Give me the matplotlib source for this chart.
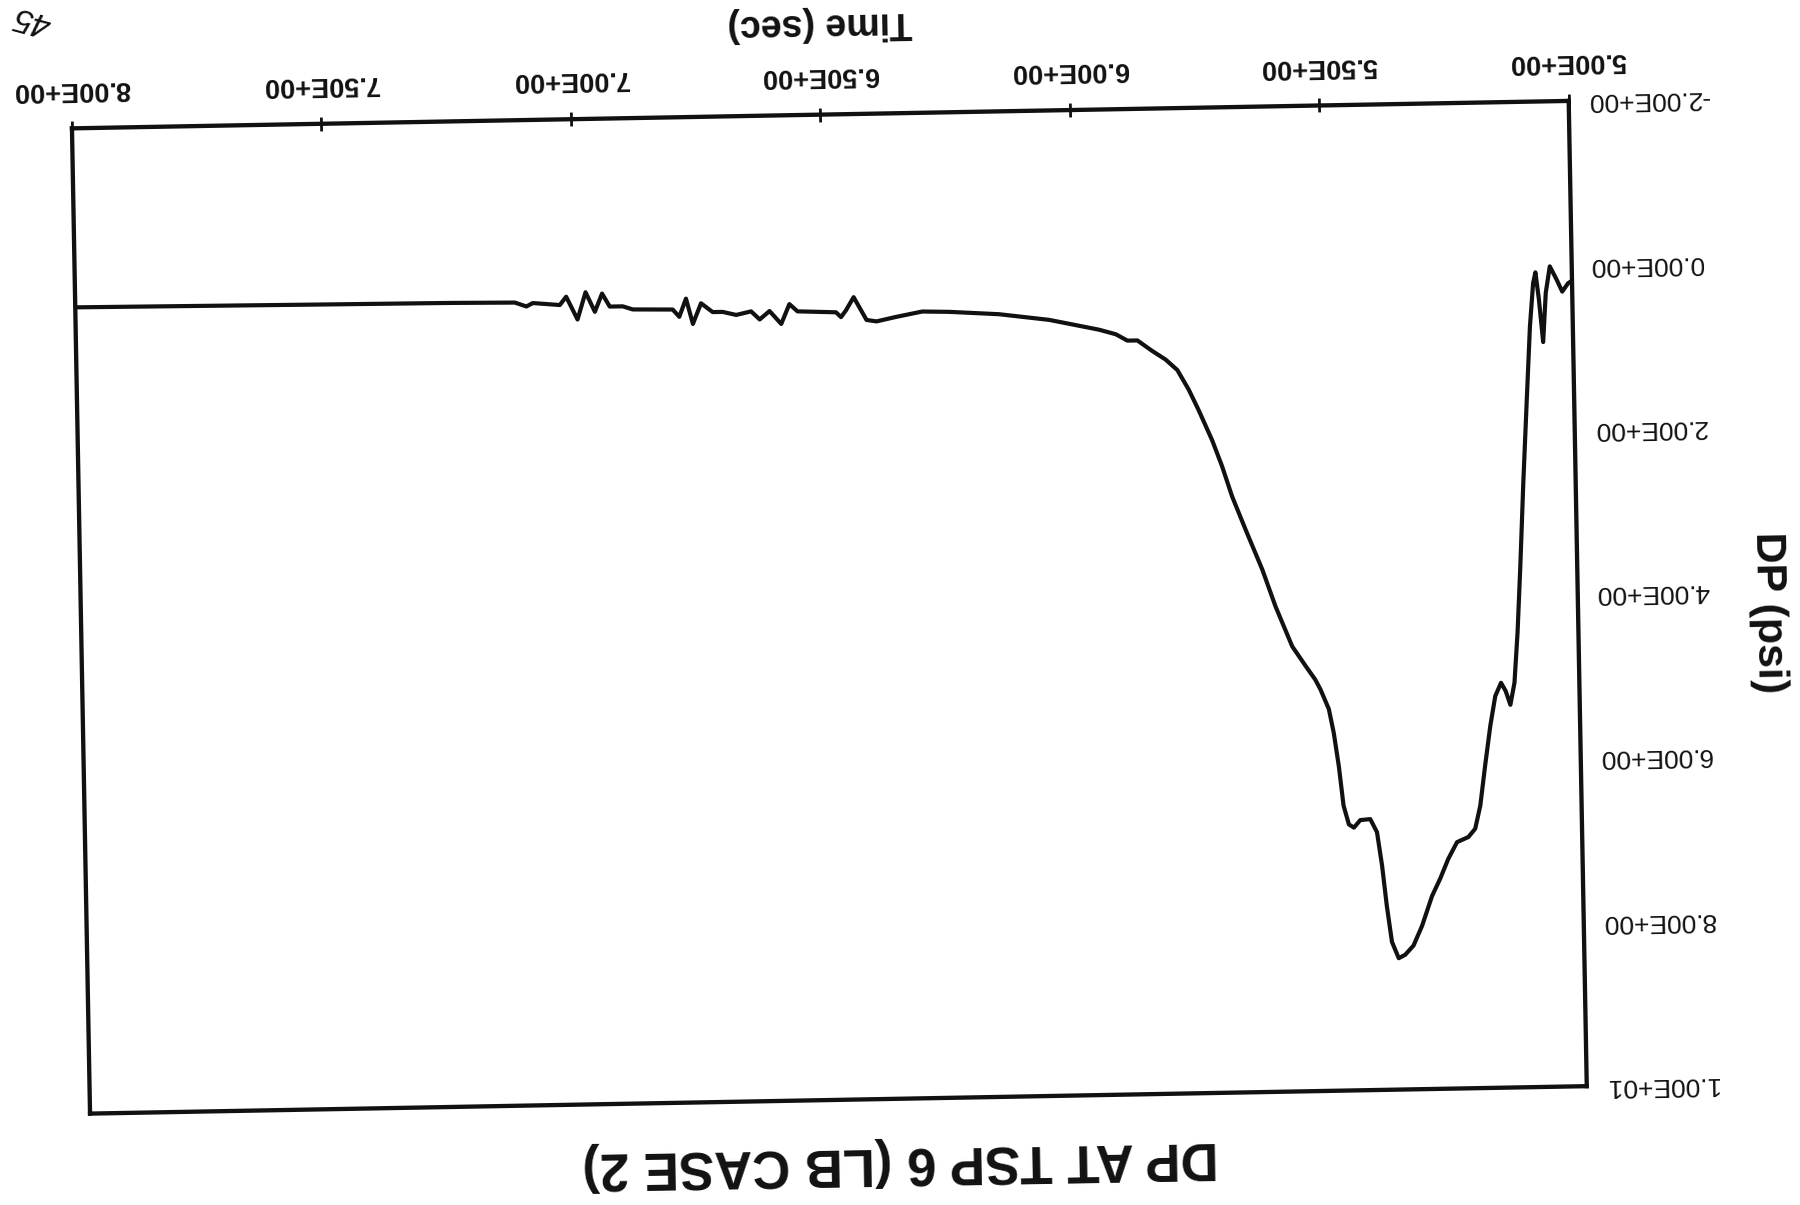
import matplotlib
matplotlib.use("Agg")
import matplotlib.pyplot as plt
from matplotlib.transforms import Affine2D
import mpl_toolkits.axisartist.floating_axes as floating_axes
from mpl_toolkits.axisartist.grid_finder import FixedLocator, DictFormatter

# DP at TSP 6, LB case 2
time_sec = [
    5.000, 5.008, 5.020, 5.031, 5.044, 5.053, 5.060, 5.067, 5.073, 5.078,
    5.086, 5.095, 5.105, 5.114, 5.122, 5.130, 5.139, 5.148, 5.157, 5.169,
    5.180, 5.192, 5.203, 5.214, 5.228, 5.251, 5.269, 5.286, 5.303, 5.324,
    5.342, 5.359, 5.372, 5.385, 5.394, 5.402, 5.411, 5.424, 5.444, 5.457,
    5.467, 5.477, 5.485, 5.494, 5.503, 5.519, 5.529, 5.548, 5.574, 5.606,
    5.631, 5.663, 5.689, 5.708, 5.727, 5.753, 5.772, 5.794, 5.817, 5.844,
    5.873, 5.893, 5.916, 5.950, 6.049, 6.149, 6.249, 6.303, 6.356, 6.395,
    6.415, 6.440, 6.456, 6.466, 6.476, 6.553, 6.569, 6.586, 6.609, 6.629,
    6.646, 6.676, 6.703, 6.723, 6.746, 6.763, 6.776, 6.790, 6.803, 6.883,
    6.903, 6.929, 6.944, 6.959, 6.977, 6.994, 7.016, 7.029, 7.083, 7.096,
    7.119, 7.249, 7.518, 8.000,
]
dp_psi = [
    0.19, 0.22, 0.32, 0.17, 0.01, 0.33, 0.93, 0.41, 0.08, 0.21,
    0.74, 1.63, 2.64, 3.65, 4.46, 5.07, 5.34, 5.17, 5.07, 5.23,
    5.59, 6.08, 6.56, 6.84, 6.94, 7.00, 7.20, 7.44, 7.65, 8.01,
    8.25, 8.36, 8.40, 8.20, 7.76, 7.27, 6.86, 6.70, 6.71, 6.80,
    6.76, 6.53, 6.05, 5.64, 5.35, 5.11, 4.99, 4.82, 4.58, 4.09,
    3.64, 3.15, 2.74, 2.37, 2.05, 1.68, 1.43, 1.19, 1.06, 0.95,
    0.82, 0.82, 0.74, 0.68, 0.55, 0.47, 0.43, 0.42, 0.48, 0.53,
    0.51, 0.23, 0.39, 0.47, 0.41, 0.39, 0.30, 0.54, 0.38, 0.48,
    0.38, 0.42, 0.38, 0.38, 0.27, 0.52, 0.21, 0.43, 0.34, 0.33,
    0.29, 0.29, 0.13, 0.35, 0.11, 0.44, 0.16, 0.26, 0.23, 0.27,
    0.22, 0.21, 0.20, 0.18,
]

x_ticks = [5.0, 5.5, 6.0, 6.5, 7.0, 7.5, 8.0]
x_tick_labels = ["5.00E+00", "5.50E+00", "6.00E+00", "6.50E+00",
                 "7.00E+00", "7.50E+00", "8.00E+00"]
y_ticks = [-2.0, 0.0, 2.0, 4.0, 6.0, 8.0, 10.0]
y_tick_labels = ["-2.00E+00", "0.00E+00", "2.00E+00", "4.00E+00",
                 "6.00E+00", "8.00E+00", "1.00E+01"]

title_text = "DP AT TSP 6 (LB CASE 2)"
x_label = "Time (sec)"
y_label = "DP (psi)"
page_mark = "45"

plt.rcParams["font.family"] = ["Liberation Sans", "DejaVu Sans"]

fig = plt.figure(figsize=(18, 12.05), dpi=100)
fig.patch.set_facecolor("white")

# The printed sheet sits upside down and slightly skewed on the page.
skew_tr = Affine2D().scale(499.8, 82.25).rotate_deg(181.05)
grid_helper = floating_axes.GridHelperCurveLinear(
    skew_tr,
    extremes=(x_ticks[0], x_ticks[-1], y_ticks[0], y_ticks[-1]),
    grid_locator1=FixedLocator(x_ticks),
    tick_formatter1=DictFormatter(dict(zip(x_ticks, x_tick_labels))),
    grid_locator2=FixedLocator(y_ticks),
    tick_formatter2=DictFormatter(dict(zip(y_ticks, y_tick_labels))),
)
ax = fig.add_axes([0.03106, 0.06745, 0.8594, 0.8572],
                  axes_class=floating_axes.FloatingAxes,
                  grid_helper=grid_helper)

ink = "#111111"
frame_lw = 3.1
for key in ["bottom", "top", "left", "right"]:
    ax.axis[key].line.set_linewidth(frame_lw)
    ax.axis[key].line.set_color(ink)
ax.axis["top"].toggle(ticks=False, ticklabels=False, label=False)
ax.axis["right"].toggle(ticks=False, ticklabels=False, label=False)
ax.axis["left"].toggle(ticks=False, label=False)
ax.axis["bottom"].toggle(label=False)

# time axis: inward ticks plus an outward copy so they cross the frame
xb = ax.axis["bottom"]
xb.major_ticks.set_ticksize(5)
xb.major_ticks.set_markeredgewidth(2)
xb.major_ticks.set_color(ink)
xb.major_ticklabels.set_fontsize(19.5)
xb.major_ticklabels.set_fontweight("bold")
xb.major_ticklabels.set_color(ink)
xb.major_ticklabels.set_pad(20)

ax.axis["bottom_out"] = ax.new_fixed_axis("bottom")
xo = ax.axis["bottom_out"]
xo.toggle(ticklabels=False, label=False)
xo.line.set_visible(False)
xo.major_ticks.set_tick_out(True)
xo.major_ticks.set_ticksize(5)
xo.major_ticks.set_markeredgewidth(2)
xo.major_ticks.set_color(ink)

yl = ax.axis["left"]
yl.major_ticklabels.set_fontsize(19)
yl.major_ticklabels.set_color(ink)
yl.major_ticklabels.set_pad(13)

aux_ax = ax.get_aux_axes(skew_tr)
aux_ax.patch = ax.patch
ax.patch.zorder = 0.9
aux_ax.plot(time_sec, dp_psi, color=ink, lw=3.0,
            solid_joinstyle="round", solid_capstyle="round")

fig.text(0.5, 0.0357, title_text, rotation=181, rotation_mode="anchor",
         ha="center", va="center", fontsize=38, fontweight="bold", color=ink)
fig.text(0.4556, 0.980, x_label, rotation=181, rotation_mode="anchor",
         ha="center", va="center", fontsize=27, fontweight="bold", color=ink)
fig.text(0.9822, 0.4921, y_label, rotation=271, rotation_mode="anchor",
         ha="center", va="center", fontsize=31, fontweight="bold", color=ink)
fig.text(0.0183, 0.984, page_mark, rotation=165, rotation_mode="anchor",
         ha="center", va="center", fontsize=24, style="italic", color=ink)

fig.savefig("out.png", dpi=100, facecolor="white")
